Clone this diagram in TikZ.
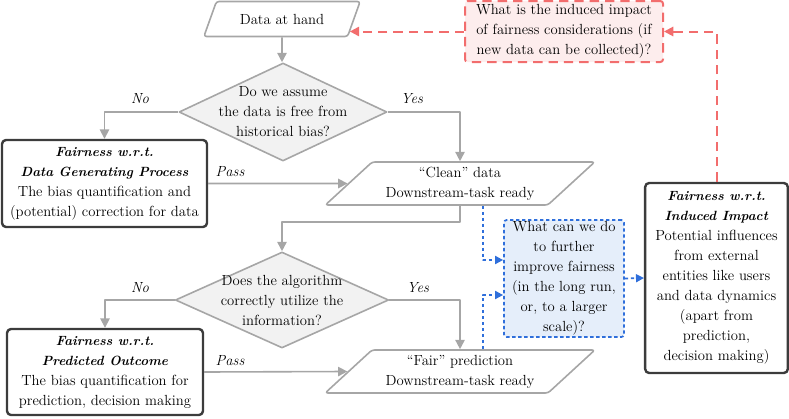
\documentclass[tikz,border=0pt]{standalone}
\usetikzlibrary{arrows.meta, calc, shapes.geometric}

\definecolor{flowgray}{HTML}{A6A6A6}
\definecolor{askfill}{HTML}{F2F2F2}
\definecolor{boxdark}{HTML}{3C3C3C}
\definecolor{impblue}{HTML}{2F6FDB}
\definecolor{impbluefill}{HTML}{E5EEFA}
\definecolor{imppink}{HTML}{F26D6D}
\definecolor{imppinkfill}{HTML}{FDEDED}

% bold italic heading inside the fairness boxes
\newcommand{\fairhead}[1]{{\fontsize{10}{15}\selectfont\textbf{\textit{#1}}}}

\begin{document}
\begin{tikzpicture}[x=0.75pt, y=-0.75pt, line join=round,
		font=\rmfamily\fontsize{11}{15}\selectfont,
		dataio/.style={shape=trapezium, trapezium stretches=true, draw=flowgray,
			line width=1.2pt, rounded corners=2pt, inner sep=0pt, align=center},
		query/.style={shape=diamond, draw=flowgray, fill=askfill, line width=1.2pt,
			inner sep=0pt},
		qtext/.style={align=center, inner sep=0pt},
		fairbox/.style={draw=boxdark, line width=1.8pt, rounded corners=3pt,
			inner sep=0pt, align=center},
		flow/.style={draw=flowgray, line width=1.2pt, -{Triangle[width=7pt,length=7pt]}},
		blueflow/.style={draw=impblue, line width=1.3pt, dash pattern=on 2.5pt off 2pt,
			-{Triangle[width=6pt,length=6pt]}},
		redflow/.style={draw=imppink, line width=1.5pt, dash pattern=on 7pt off 4.5pt,
			-{Triangle[width=7pt,length=7pt]}},
		tag/.style={font=\rmfamily\fontsize{11}{13}\selectfont\itshape}]
	
	\useasboundingbox (0,0) rectangle (789,418);
	
	% 1. Data and the two questions
	\node[dataio, minimum width=117.75pt, minimum height=26.25pt,
		trapezium left angle=52, trapezium right angle=128] (data) at (282,19) {Data at hand};
	\node[query, minimum width=156pt, minimum height=73.5pt,
		label={[qtext]center:{Do we assume\\the data is free from\\historical bias?}}] (q1) at (283,112) {};
	\node[dataio, minimum width=202.5pt, minimum height=32.25pt,
		trapezium left angle=40, trapezium right angle=140] (clean) at (460,183.5)
		{``Clean'' data\\Downstream-task ready};
	\node[query, minimum width=160pt, minimum height=72pt,
		label={[qtext]center:{Does the algorithm\\correctly utilize the\\information?}}] (q2) at (282,300) {};
	\node[dataio, minimum width=202.5pt, minimum height=32.25pt,
		trapezium left angle=40, trapezium right angle=140] (fair) at (460,371.5)
		{``Fair'' prediction\\Downstream-task ready};
	
	% 2. Fairness notions
	\node[fairbox, minimum width=153.75pt, minimum height=65.25pt] (dgp) at (104.5,183.5)
		{\fairhead{Fairness w.r.t.}\\\fairhead{Data Generating Process}\\
		 The bias quantification and\\(potential) correction for data};
	\node[fairbox, minimum width=147pt, minimum height=64.5pt] (po) at (105,372)
		{\fairhead{Fairness w.r.t.}\\\fairhead{Predicted Outcome}\\
		 The bias quantification for\\prediction, decision making};
	\node[fairbox, minimum width=107pt, minimum height=142.5pt] (impact) at (716.5,278)
		{\fairhead{Fairness w.r.t.}\\\fairhead{Induced Impact}\\
		 Potential influences\\from external\\entities like users\\and data dynamics\\
		 (apart from\\prediction,\\decision making)};
	
	% 3. Open questions
	\node[draw=impblue, fill=impbluefill, line width=1.3pt, dash pattern=on 2.5pt off 2pt,
		rounded corners=2pt, inner sep=0pt, align=center,
		minimum width=90pt, minimum height=87.75pt] (further) at (564,278.5)
		{What can we do\\to further\\improve fairness\\(in the long run,\\or, to a larger\\scale)?};
	\node[draw=imppink, fill=imppinkfill, line width=1.5pt, dash pattern=on 7pt off 4.5pt,
		rounded corners=2pt, inner sep=0pt, align=center,
		minimum width=148.5pt, minimum height=45.75pt] (induced) at (564,31.5)
		{What is the induced impact\\of fairness considerations (if\\new data can be collected)?};
	
	% 4. Main flow
	\draw[flow] (data) -- (data |- q1.north);
	\draw[flow] (q1.east) -| (clean.north);
	\draw[flow] (q1.west) -| (dgp.north);
	\draw[flow] (dgp.east) -- (clean.west);
	\draw[flow] (clean.south) -- ++(0,16) -| (q2.north);
	\draw[flow] (q2.west) -| (po.north);
	\draw[flow] (q2.east) -| (fair.north);
	\draw[flow] (po.east) -- (fair.west);
	
	\node[tag] at (140,99) {No};
	\node[tag] at (412,99) {Yes};
	\node[tag] at (230,172) {Pass};
	\node[tag] at (140,288) {No};
	\node[tag] at (418,288) {Yes};
	\node[tag] at (230,361) {Pass};
	
	% 5. Feedback loops
	\draw[blueflow] ($(clean.south)+(23,0)$) |- ($(further.west)+(0,-18.5)$);
	\draw[blueflow] ($(fair.north)+(23,0)$) |- ($(further.west)+(0,16.5)$);
	\draw[blueflow] (further.east) -- (impact.west);
	
	\coordinate (dataIn) at ($(data.top right corner)!0.87!(data.bottom right corner)$);
	\draw[redflow] (impact.north) |- (induced.east);
	\draw[redflow] (induced.west) -- (induced.west -| dataIn);
	
\end{tikzpicture}
\end{document}
